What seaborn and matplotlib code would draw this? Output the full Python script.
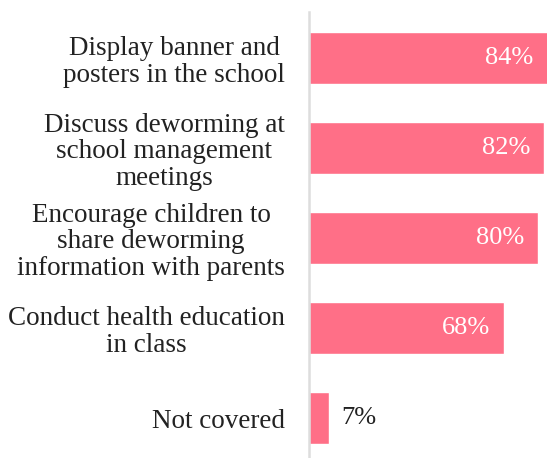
import matplotlib
matplotlib.use("Agg")
import matplotlib.pyplot as plt
import seaborn as sns
import pandas as pd

categories = [
    "Display banner and\nposters in the school",
    "Discuss deworming at\nschool management\nmeetings",
    "Encourage children to\nshare deworming\ninformation with parents",
    "Conduct health education\nin class",
    "Not covered",
]
values = [84, 82, 80, 68, 7]

df = pd.DataFrame({"category": categories, "value": values})

sns.set_style("white")
plt.rcParams["font.family"] = ["Liberation Serif", "DejaVu Serif"]

fig = plt.figure(figsize=(5.47, 4.58), dpi=100)
ax = fig.add_axes([308.5 / 547, 0, 238.5 / 547, 446 / 458])

color = "#FF6F87"
sns.barplot(data=df, x="value", y="category", orient="h", color=color,
            width=0.575, ax=ax, saturation=1)

ax.set_xlim(0, 83)
ax.set_ylim(4.444, -0.511)
ax.set_xlabel("")
ax.set_ylabel("")
ax.set_xticks([])
for s in ["top", "right", "bottom"]:
    ax.spines[s].set_visible(False)
ax.spines["left"].set_color("#dddddd")
ax.spines["left"].set_linewidth(1.8)
ax.tick_params(axis="y", length=0, pad=17, labelsize=19.5)
for lbl in ax.get_yticklabels():
    lbl.set_multialignment("center")
    lbl.set_linespacing(1.1)
    lbl.set_color("#222222")

for i, v in enumerate(values):
    if v > 20:
        x = min(v, 83) - 4.8
        ax.text(x, i, f"{v}%", ha="right", va="center", color="white", fontsize=19)
    else:
        ax.text(v + 4.3, i, f"{v}%", ha="left", va="center", color="#222222", fontsize=19)

fig.savefig("out.png", dpi=100)
